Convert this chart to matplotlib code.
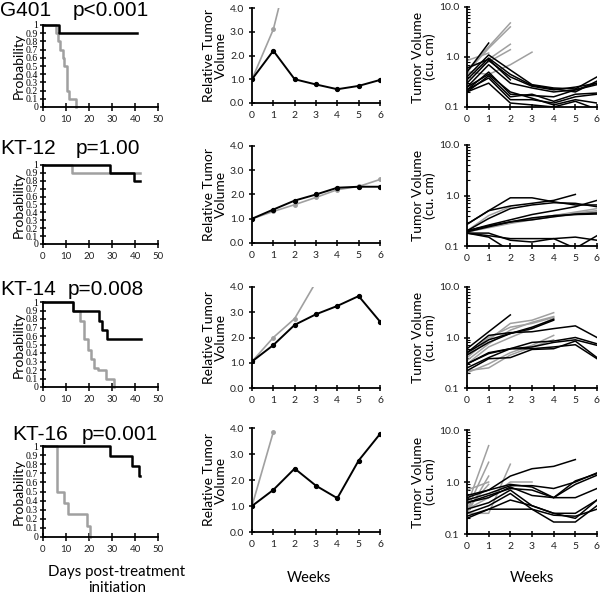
import numpy as np
import matplotlib
matplotlib.use("Agg")
import matplotlib.pyplot as plt
from matplotlib.ticker import LogLocator, NullFormatter

# ---- survival curves (days, probability); last entry repeats to end of follow-up
g401_blk_t = [0, 7.1, 40.7]
g401_blk_s = [1, 0.9, 0.9]
g401_gry_t = [0, 5.5, 6.5, 7.6, 8.6, 9.3, 10.4, 11.1, 14.3]
g401_gry_s = [1, 0.9, 0.8, 0.7, 0.6, 0.5, 0.2, 0.1, 0.0]

kt12_blk_t = [0, 29.3, 39.7, 42]
kt12_blk_s = [1, 0.9, 0.8, 0.8]
kt12_gry_t = [0, 12.6, 42]
kt12_gry_s = [1, 0.9, 0.9]

kt14_blk_t = [0, 13, 24.2, 25.5, 28, 42.4]
kt14_blk_s = [1, 0.89, 0.78, 0.67, 0.56, 0.56]
kt14_gry_t = [0, 13, 16, 18, 19.5, 21, 22, 24, 27.5, 31]
kt14_gry_s = [1, 0.9, 0.78, 0.56, 0.44, 0.33, 0.22, 0.2, 0.1, 0.0]

kt16_blk_t = [0, 29, 38.7, 41.7, 42]
kt16_blk_s = [1, 0.89, 0.78, 0.67, 0.67]
kt16_gry_t = [0, 6.2, 9.3, 11, 19, 20.3]
kt16_gry_s = [1, 0.5, 0.375, 0.25, 0.125, 0.0]

# ---- mean relative tumour volume by week
weeks = [0, 1, 2, 3, 4, 5, 6]
g401_rel_blk = [1.0, 2.2, 1.0, 0.78, 0.58, 0.72, 0.97]
g401_rel_gry = [1.0, 3.1, 6.7]
kt12_rel_blk = [1.0, 1.38, 1.75, 2.0, 2.28, 2.32, 2.32]
kt12_rel_gry = [1.0, 1.3, 1.58, 1.88, 2.2, 2.33, 2.62]
kt14_rel_blk = [1.05, 1.7, 2.5, 2.92, 3.25, 3.64, 2.63]
kt14_rel_gry = [1.05, 2.0, 2.75, 4.2]
kt16_rel_blk = [1.0, 1.62, 2.44, 1.78, 1.3, 2.75, 3.77]
kt16_rel_gry = [1.0, 3.85]

# ---- individual tumour volumes (cu. cm)
g401_tv_gry = [[0.55, 1.6, 4.8], [0.5, 1.5, 4.0], [0.6, 0.9, 1.8], [0.45, 0.8, 1.4],
               [0.5, 0.45, 0.7, 1.25], [0.85, 1.2]]
g401_tv_blk = [[0.4, 1.1, 0.55, 0.28, 0.24, 0.23, 0.4], [0.35, 0.95, 0.45, 0.27, 0.23, 0.2, 0.33],
               [0.3, 0.85, 0.4, 0.26, 0.22, 0.25, 0.3], [0.25, 0.7, 0.3, 0.24, 0.2, 0.22, 0.28],
               [0.22, 0.5, 0.18, 0.17, 0.16, 0.22, 0.3], [0.2, 0.42, 0.16, 0.18, 0.13, 0.18, 0.19],
               [0.22, 0.38, 0.14, 0.14, 0.12, 0.16, 0.18], [0.2, 0.3, 0.12, 0.11, 0.1, 0.13, 0.09],
               [0.25, 0.45, 0.2, 0.15, 0.11, 0.14, 0.12], [0.5, 1.9], [0.6, 0.9, 0.35]]

kt12_tv_gry = [[0.2, 0.25, 0.3, 0.35, 0.4, 0.47, 0.55], [0.19, 0.24, 0.29, 0.34, 0.4, 0.45, 0.5],
               [0.2, 0.4, 0.6], [0.19, 0.23, 0.28, 0.33, 0.38, 0.42, 0.47]]
kt12_tv_blk = [[0.27, 0.5, 0.9, 0.9, 0.75, 0.65, 0.65], [0.27, 0.5, 0.62, 0.7, 0.8, 1.05],
               [0.2, 0.35, 0.55, 0.65, 0.72, 0.7, 0.6], [0.2, 0.26, 0.33, 0.42, 0.5, 0.6, 0.8],
               [0.2, 0.25, 0.3, 0.36, 0.4, 0.42, 0.43], [0.19, 0.24, 0.3, 0.33, 0.38, 0.43, 0.45],
               [0.18, 0.18, 0.13, 0.12, 0.14, 0.15, 0.13], [0.18, 0.15, 0.08],
               [0.18, 0.16, 0.14, 0.14, 0.14, 0.09, 0.16]]

kt14_tv_gry = [[0.4, 0.9, 1.9, 2.2, 3.1], [0.35, 0.75, 1.4, 2.0, 2.6], [0.3, 0.65, 1.0, 1.5, 2.4],
               [0.2, 0.3, 0.5, 0.7, 1.1], [0.22, 0.25, 0.45, 0.65, 0.9], [0.45, 1.0, 1.6, 1.9, 2.5]]
kt14_tv_blk = [[0.6, 1.3, 2.8], [0.5, 1.1, 1.25, 1.3, 1.5, 1.7, 1.0], [0.5, 0.9, 1.2, 1.6, 2.3],
               [0.45, 0.8, 1.2, 1.5, 2.2], [0.3, 0.5, 0.6, 0.8, 0.85, 1.0, 0.75],
               [0.3, 0.48, 0.6, 0.65, 0.8, 0.9, 0.7], [0.25, 0.4, 0.6, 0.6, 0.65, 0.72, 0.38],
               [0.22, 0.38, 0.4, 0.58, 0.6, 0.85, 0.4]]

kt16_tv_gry = [[0.35, 5.0], [0.3, 2.4], [0.25, 1.3], [0.3, 0.9], [0.25, 0.25, 2.2],
               [0.3, 0.5, 1.0, 1.0], [0.7, 1.0]]
kt16_tv_blk = [[0.55, 0.7, 1.3, 1.8, 2.0, 2.7], [0.45, 0.6, 0.85, 0.85, 0.75, 1.0, 1.5],
               [0.4, 0.55, 0.75, 0.7, 0.5, 0.9, 1.35], [0.4, 0.5, 0.8, 0.55, 0.5, 0.5, 0.75],
               [0.3, 0.4, 0.7, 0.35, 0.25, 0.2, 0.45], [0.25, 0.35, 0.6, 0.3, 0.17, 0.17, 0.35],
               [0.2, 0.3, 0.45, 0.35, 0.25, 0.25, 0.45], [0.22, 0.3, 0.3, 0.3, 0.23, 0.22, 0.3],
               [0.5, 0.7, 0.9, 0.8, 0.5, 1.05, 1.45]]

titles = ["G401", "KT-12", "KT-14", "KT-16"]
pvals = ["p<0.001", "p=1.00", "p=0.008", "p=0.001"]

GRAY = "#a0a0a0"
TICKC = "#222222"
SANS = "Lato"

W, H = 600, 599
fig = plt.figure(figsize=(6, 5.99), dpi=100)


def box(x0, y0, x1, y1):
    return fig.add_axes([x0 / W, 1 - y1 / H, (x1 - x0) / W, (y1 - y0) / H])


def clean(ax):
    for s in ["top", "right"]:
        ax.spines[s].set_visible(False)
    for s in ["left", "bottom"]:
        ax.spines[s].set_linewidth(1.3)
    ax.patch.set_alpha(0)


km_rows = [(25, 107), (165, 244), (302, 387), (446, 537)]
rel_rows = [(8, 103), (146, 243), (287, 388), (428, 532)]
tv_rows = [(7, 107), (145, 246), (287, 388), (430, 534)]
title_y = [11, 149, 289, 434]
title_x = [(0, 73), (0, 76), (0, 68), (12, 82)]

km = [(g401_blk_t, g401_blk_s, g401_gry_t, g401_gry_s),
      (kt12_blk_t, kt12_blk_s, kt12_gry_t, kt12_gry_s),
      (kt14_blk_t, kt14_blk_s, kt14_gry_t, kt14_gry_s),
      (kt16_blk_t, kt16_blk_s, kt16_gry_t, kt16_gry_s)]
rel = [(g401_rel_blk, g401_rel_gry), (kt12_rel_blk, kt12_rel_gry),
       (kt14_rel_blk, kt14_rel_gry), (kt16_rel_blk, kt16_rel_gry)]
tv = [(g401_tv_blk, g401_tv_gry), (kt12_tv_blk, kt12_tv_gry),
      (kt14_tv_blk, kt14_tv_gry), (kt16_tv_blk, kt16_tv_gry)]

for i in range(4):
    # title
    fig.text(title_x[i][0] / W, 1 - title_y[i] / H, titles[i], fontsize=15,
             family="Liberation Sans", va="center", ha="left")
    fig.text(title_x[i][1] / W, 1 - title_y[i] / H, pvals[i], fontsize=15,
             family="Liberation Sans", va="center", ha="left")

    # survival
    y0, y1 = km_rows[i]
    ax = box(43, y0, 158, y1)
    bt, bs, gt, gs = km[i]
    ax.step(gt, gs, where="post", color=GRAY, lw=1.8, clip_on=False)
    ax.step(bt, bs, where="post", color="black", lw=1.8, clip_on=False)
    ax.set_xlim(0, 50)
    ax.set_ylim(0, 1)
    ax.set_xticks(range(0, 51, 10))
    ax.set_yticks(np.arange(0, 1.01, 0.1))
    ax.set_yticklabels(["0"] + ["%.1f" % v for v in np.arange(0.1, 0.95, 0.1)] + ["1"],
                       family="Liberation Serif", fontsize=7)
    ax.tick_params(axis="y", direction="inout", length=5, width=1.1, pad=1)
    ax.tick_params(axis="x", direction="inout", length=6, width=1.1, labelsize=7, labelcolor=TICKC, pad=3)
    for lab in ax.get_xticklabels():
        lab.set_family(SANS)
    ax.set_ylabel("Probability", fontsize=10, family=SANS, labelpad=1)
    clean(ax)

    # relative tumour volume
    y0, y1 = rel_rows[i]
    ax = box(252, y0, 380, y1)
    rb, rg = rel[i]
    ax.plot(weeks[:len(rg)], rg, color=GRAY, lw=1.2, marker="o", ms=2.5)
    ax.plot(weeks[:len(rb)], rb, color="black", lw=1.4, marker="o", ms=2.8)
    ax.set_xlim(0, 6)
    ax.set_ylim(0, 4)
    ax.set_xticks(weeks)
    ax.set_yticks([0, 1, 2, 3, 4])
    ax.set_yticklabels(["0.0", "1.0", "2.0", "3.0", "4.0"])
    ax.tick_params(direction="inout", length=5, width=1.1, labelsize=7.5, labelcolor=TICKC, pad=3)
    for lab in ax.get_xticklabels() + ax.get_yticklabels():
        lab.set_family(SANS)
    ax.set_ylabel("Relative Tumor\nVolume", fontsize=10, family=SANS, labelpad=2, linespacing=1.0)
    clean(ax)

    # tumour volume, per animal
    y0, y1 = tv_rows[i]
    ax = box(467, y0, 597, y1)
    tb, tg = tv[i]
    for v in tg:
        ax.plot(weeks[:len(v)], v, color=GRAY, lw=1.1)
    for v in tb:
        ax.plot(weeks[:len(v)], v, color="black", lw=1.1)
    ax.set_yscale("log")
    ax.set_xlim(0, 6)
    ax.set_ylim(0.1, 10)
    ax.set_xticks(weeks)
    ax.set_yticks([0.1, 1, 10])
    ax.set_yticklabels(["0.1", "1.0", "10.0"])
    ax.yaxis.set_minor_locator(LogLocator(base=10, subs=np.arange(2, 10)))
    ax.yaxis.set_minor_formatter(NullFormatter())
    ax.tick_params(which="major", direction="inout", length=5, width=1.1, labelsize=7.5,
                   labelcolor=TICKC, pad=3)
    ax.tick_params(which="minor", direction="in", length=2, width=0.8)
    for lab in ax.get_xticklabels() + ax.get_yticklabels():
        lab.set_family(SANS)
    ax.set_ylabel("Tumor Volume\n(cu. cm)", fontsize=10, family=SANS, labelpad=2, linespacing=1.0)
    clean(ax)

fig.text(117 / W, 1 - 580 / H, "Days post-treatment\ninitiation", fontsize=10.8, family=SANS,
         ha="center", va="center", linespacing=1.2)
fig.text(309 / W, 1 - 578 / H, "Weeks", fontsize=10.5, family=SANS, ha="center", va="center")
fig.text(532 / W, 1 - 578 / H, "Weeks", fontsize=10.5, family=SANS, ha="center", va="center")

fig.savefig("out.png", dpi=100)
